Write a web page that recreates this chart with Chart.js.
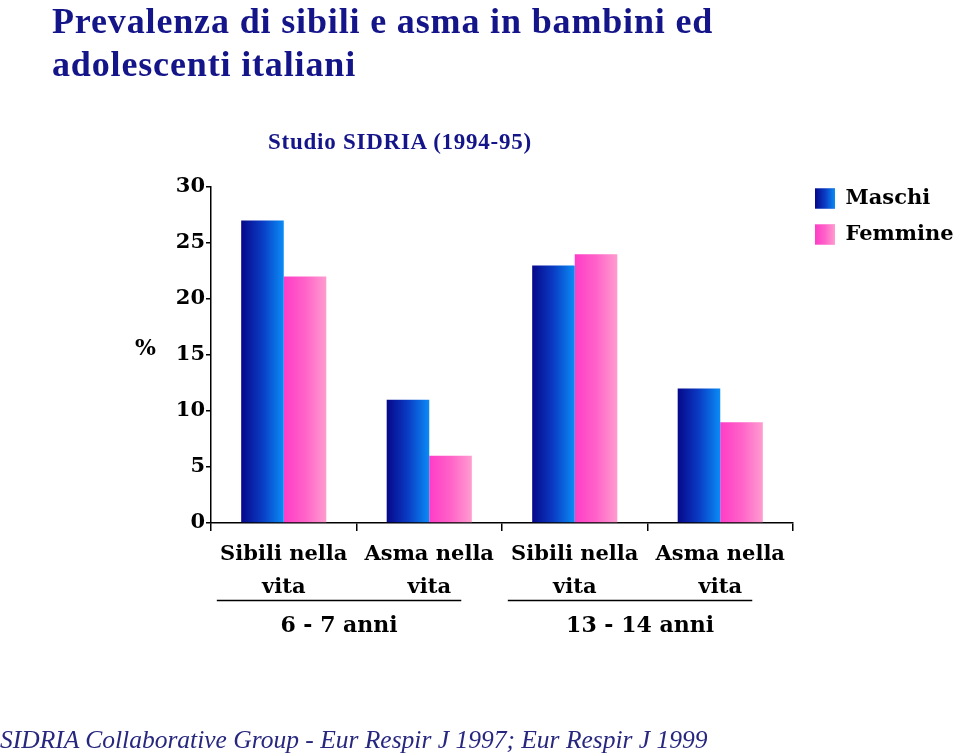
<!DOCTYPE html>
<html>
<head>
<meta charset="utf-8">
<script src="https://cdn.jsdelivr.net/npm/chart.js@4/dist/chart.umd.min.js"></script>
<style>
  html, body { margin: 0; padding: 0; background: #ffffff; }
  #wrap { position: relative; width: 960px; height: 753px; overflow: hidden; }
  #c { position: absolute; left: 0; top: 0; }
  .txt { position: absolute; white-space: nowrap; color: #15158a; }
  #title { left: 52px; top: 0px; font: bold 36px "Liberation Serif", serif; line-height: 43px; letter-spacing: 0.85px; }
  #subtitle { left: 268px; top: 129px; font: bold 23px "Liberation Serif", serif; line-height: 26px; letter-spacing: 0.75px; }
  #footer { left: 0px; top: 725px; font: italic 25.5px "Liberation Serif", serif; line-height: 30px; color: #27277f; }
  #pct { left: 135px; top: 334px; font: bold 22px "DejaVu Serif", serif; color: #000; }
</style>
</head>
<body>
<div id="wrap">
  <canvas id="c" width="960" height="753"></canvas>
  <div class="txt" id="title">Prevalenza di sibili e asma in bambini ed<br>adolescenti italiani</div>
  <div class="txt" id="subtitle">Studio SIDRIA (1994-95)</div>
  <div class="txt" id="pct">%</div>
  <div class="txt" id="footer">SIDRIA Collaborative Group - Eur Respir J 1997; Eur Respir J 1999</div>
</div>
<script>
// ---- data ----
const categories = [["Sibili nella", "vita"], ["Asma nella", "vita"], ["Sibili nella", "vita"], ["Asma nella", "vita"]];
const seriesNames = ["Maschi", "Femmine"];
const maschi = [27, 11, 23, 12];
const femmine = [22, 6, 24, 9];
const groupLabels = ["6 - 7 anni", "13 - 14 anni"];
const groupMembers = [[0, 1], [2, 3]];
const yTickMin = 0, yTickMax = 30, yTickStep = 5;

// ---- styling ----
const CAT_PCT = 0.585;
const maleStops = ["#06088a", "#0a3cc4", "#0a8cf5"];
const femaleStops = ["#ff3cc8", "#ff62c8", "#ff9ccf"];

function makeGrad(ctx, x0, x1, stops) {
  const g = ctx.createLinearGradient(x0, 0, x1, 0);
  stops.forEach((c, i) => g.addColorStop(i / (stops.length - 1), c));
  return g;
}

function barGradient(context, which) {
  const chart = context.chart;
  const xs = chart.scales.x;
  if (!xs || !chart.chartArea || context.dataIndex === undefined) {
    return which === 0 ? maleStops[1] : femaleStops[1];
  }
  const catW = xs.width / categories.length;
  const barW = catW * CAT_PCT / 2;
  const cx = xs.getPixelForValue(context.dataIndex);
  const x0 = which === 0 ? cx - barW : cx;
  return makeGrad(chart.ctx, x0, x0 + barW, which === 0 ? maleStops : femaleStops);
}

const extrasPlugin = {
  id: 'extras',
  afterDraw(chart) {
    const ctx = chart.ctx;
    const xs = chart.scales.x;
    const catW = xs.width / categories.length;
    ctx.save();
    groupMembers.forEach((members, gi) => {
      const left = xs.getPixelForValue(members[0]) - catW * 0.46;
      const right = xs.getPixelForValue(members[members.length - 1]) + catW * 0.22;
      ctx.strokeStyle = '#000';
      ctx.lineWidth = 1.5;
      ctx.beginPath();
      ctx.moveTo(left, 600.5);
      ctx.lineTo(right, 600.5);
      ctx.stroke();
      ctx.fillStyle = '#000';
      ctx.font = 'bold 22px "DejaVu Serif", serif';
      ctx.textAlign = 'center';
      ctx.textBaseline = 'middle';
      ctx.fillText(groupLabels[gi], (left + right) / 2 + (gi === 0 ? 0 : 10), 626);
    });
    const lg = chart.legend;
    if (lg && lg.legendHitBoxes) {
      lg.legendHitBoxes.forEach((hb, i) => {
        const bw = 20, bh = 20;
        const top = hb.top + (hb.height - bh) / 2;
        ctx.fillStyle = makeGrad(ctx, hb.left, hb.left + bw, i === 0 ? maleStops : femaleStops);
        ctx.fillRect(hb.left, top, bw, bh);
      });
    }
    ctx.restore();
  }
};

new Chart(document.getElementById('c'), {
  type: 'bar',
  data: {
    labels: categories,
    datasets: [
      { label: seriesNames[0], data: maschi, backgroundColor: (c) => barGradient(c, 0), borderWidth: 0 },
      { label: seriesNames[1], data: femmine, backgroundColor: (c) => barGradient(c, 1), borderWidth: 0 }
    ]
  },
  options: {
    responsive: false,
    animation: false,
    devicePixelRatio: 1,
    layout: { padding: { top: 173, bottom: 0, left: 0, right: 0 } },
    datasets: { bar: { categoryPercentage: CAT_PCT, barPercentage: 1.0 } },
    plugins: {
      title: { display: false },
      tooltip: { enabled: false },
      legend: {
        position: 'right',
        align: 'start',
        maxWidth: 160,
        labels: {
          color: '#000',
          boxWidth: 20,
          boxHeight: 20,
          padding: 15,
          font: { family: '"DejaVu Serif", serif', weight: 'bold', size: 21 },
          generateLabels(chart) {
            return chart.data.datasets.map((ds, i) => ({
              text: ds.label,
              fillStyle: i === 0 ? maleStops[1] : femaleStops[1],
              strokeStyle: 'rgba(0,0,0,0)',
              lineWidth: 0,
              datasetIndex: i,
              fontColor: '#000'
            }));
          }
        }
      }
    },
    scales: {
      x: {
        offset: true,
        grid: { display: true, offset: true, drawOnChartArea: false, drawTicks: true, tickLength: 8, color: '#000', lineWidth: 1.5 },
        border: { display: true, color: '#000', width: 1.5 },
        ticks: {
          color: '#000',
          maxRotation: 0,
          autoSkip: false,
          padding: 7,
          font: { family: '"DejaVu Serif", serif', weight: 'bold', size: 21, lineHeight: 1.57 }
        },
        afterFit(s) { s.height = 230; }
      },
      xt: {
        position: 'top',
        display: true,
        grid: { display: false },
        border: { display: false },
        ticks: { display: false },
        afterFit(s) { s.height = 14; }
      },
      y: {
        min: yTickMin,
        max: yTickMax,
        grid: { display: true, drawOnChartArea: false, drawTicks: true, tickLength: 5, color: '#000', lineWidth: 1.5 },
        border: { display: true, color: '#000', width: 1.5 },
        ticks: {
          stepSize: yTickStep,
          color: '#000',
          padding: 1,
          font: { family: '"DejaVu Serif", serif', weight: 'bold', size: 21 }
        },
        afterFit(s) { s.width = 211; }
      },
      yr: {
        position: 'right',
        display: true,
        grid: { display: false },
        border: { display: false },
        ticks: { display: false },
        afterFit(s) { s.width = 7; }
      }
    }
  },
  plugins: [extrasPlugin]
});
</script>
</body>
</html>
